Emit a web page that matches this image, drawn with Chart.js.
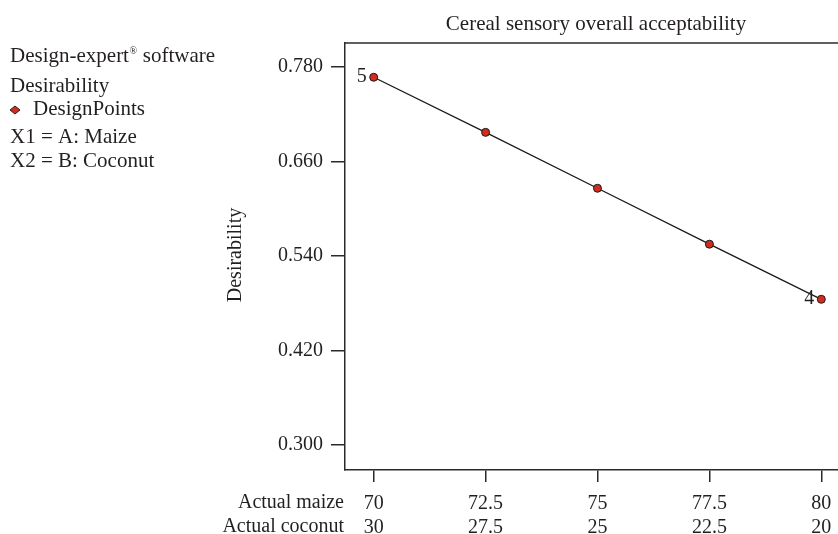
<!DOCTYPE html>
<html>
<head>
<meta charset="utf-8">
<script src="https://cdn.jsdelivr.net/npm/chart.js@4"></script>
<style>
  html, body { margin: 0; padding: 0; background: #ffffff; overflow: hidden; }
  canvas { display: block; }
</style>
</head>
<body>
<canvas id="c" width="838" height="534"></canvas>
<script>
// ---- data ----
const maize = [70, 72.5, 75, 77.5, 80];
const coconut = [30, 27.5, 25, 22.5, 20];
const desirability = [0.767, 0.697, 0.626, 0.555, 0.485];
const yTicks = [0.300, 0.420, 0.540, 0.660, 0.780];
const pointLabels = ['5', '', '', '', '4'];
const rowLabels = ['Actual maize', 'Actual coconut'];
const titleText = 'Cereal sensory overall acceptability';
const yTitle = 'Desirability';
const legendLines = ['Desirability', 'DesignPoints', 'X1 = A: Maize', 'X2 = B: Coconut'];

const FONT = '"Liberation Serif", "Times New Roman", serif';
const TXT = '#231f20';
const AX = '#2a2a2a';
const RED = '#d52a1e';

const extras = {
  id: 'extras',
  afterDraw(chart) {
    const ctx = chart.ctx;
    const ca = chart.chartArea;
    ctx.save();
    // top border
    ctx.strokeStyle = AX; ctx.lineWidth = 1.5;
    ctx.beginPath(); ctx.moveTo(ca.left - 0.75, ca.top); ctx.lineTo(ca.right, ca.top); ctx.stroke();

    ctx.fillStyle = TXT;
    // title
    ctx.font = '21px ' + FONT;
    ctx.textAlign = 'center'; ctx.textBaseline = 'alphabetic';
    ctx.fillText(titleText, 596, 30);

    // y title
    ctx.font = '20px ' + FONT;
    ctx.save();
    ctx.translate(241, 255);
    ctx.rotate(-Math.PI / 2);
    ctx.textAlign = 'center'; ctx.textBaseline = 'alphabetic';
    ctx.fillText(yTitle, 0, 0);
    ctx.restore();

    // row labels under x axis
    ctx.textAlign = 'right'; ctx.textBaseline = 'alphabetic';
    ctx.fillText(rowLabels[0], 344, 508);
    ctx.fillText(rowLabels[1], 344, 532);

    // point labels
    const meta = chart.getDatasetMeta(0);
    ctx.textAlign = 'right'; ctx.textBaseline = 'middle';
    meta.data.forEach((pt, i) => {
      if (pointLabels[i]) ctx.fillText(pointLabels[i], pt.x - 7, pt.y - 1);
    });

    // left legend block
    ctx.textAlign = 'left'; ctx.textBaseline = 'alphabetic';
    ctx.font = '21px ' + FONT;
    let x = 10;
    const part1 = 'Design-expert';
    ctx.fillText(part1, x, 62);
    x += ctx.measureText(part1).width;
    ctx.font = '10px ' + FONT;
    ctx.fillText('®', x + 0.5, 54);
    x += ctx.measureText('®').width + 1;
    ctx.font = '21px ' + FONT;
    ctx.fillText(' software', x, 62);
    const bases = [92, 115, 143, 167];
    legendLines.forEach((t, i) => {
      ctx.fillText(t, i === 1 ? 33 : 10, bases[i]);
    });
    // diamond marker
    ctx.beginPath();
    ctx.moveTo(15, 106); ctx.lineTo(20, 110); ctx.lineTo(15, 114); ctx.lineTo(10, 110); ctx.closePath();
    ctx.fillStyle = RED; ctx.fill();
    ctx.strokeStyle = '#222'; ctx.lineWidth = 1; ctx.stroke();
    ctx.restore();
  }
};

new Chart(document.getElementById('c'), {
  type: 'line',
  data: {
    datasets: [{
      data: maize.map((m, i) => ({ x: m, y: desirability[i] })),
      borderColor: '#1a1a1a',
      borderWidth: 1.3,
      pointRadius: 4,
      pointBackgroundColor: RED,
      pointBorderColor: '#1a1a1a',
      pointBorderWidth: 1,
      tension: 0,
      fill: false,
      clip: false
    }]
  },
  options: {
    responsive: false,
    animation: false,
    devicePixelRatio: 1,
    layout: { autoPadding: false, padding: { top: 43, left: 0, right: 0, bottom: 0 } },
    plugins: { legend: { display: false }, title: { display: false }, tooltip: { enabled: false } },
    scales: {
      x: {
        type: 'linear',
        min: 69.359, max: 80.373,
        afterFit(s) { s.height = 64; s.paddingLeft = 0; s.paddingRight = 0; },
        afterBuildTicks(s) { s.ticks = maize.map(v => ({ value: v })); },
        grid: { drawOnChartArea: false, drawTicks: true, tickLength: 12, color: AX, lineWidth: 1.5 },
        border: { display: true, color: AX, width: 1.5 },
        ticks: {
          autoSkip: false, maxRotation: 0, padding: 10,
          color: TXT,
          font: { family: FONT, size: 20, lineHeight: 1.2 },
          callback(v, i) { return [String(maize[i]), String(coconut[i])]; }
        }
      },
      y: {
        min: 0.2682, max: 0.8105,
        afterFit(s) { s.width = 345; s.paddingTop = 0; s.paddingBottom = 0; },
        afterBuildTicks(s) { s.ticks = yTicks.map(v => ({ value: v })); },
        grid: { drawOnChartArea: false, drawTicks: true, tickLength: 14, color: AX, lineWidth: 1.5 },
        border: { display: true, color: AX, width: 1.5 },
        ticks: {
          padding: 8, color: TXT,
          font: { family: FONT, size: 20 },
          callback(v, i) { return yTicks[i].toFixed(3); }
        }
      }
    }
  },
  plugins: [extras]
});
</script>
</body>
</html>
